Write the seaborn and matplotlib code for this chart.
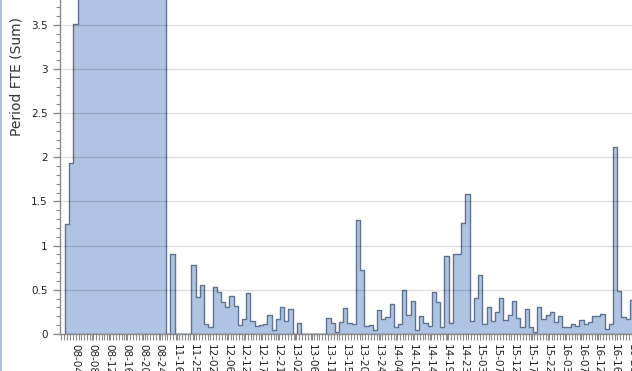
import numpy as np
import pandas as pd
import seaborn as sns
import matplotlib.pyplot as plt
from matplotlib.ticker import MultipleLocator, FuncFormatter
from matplotlib.lines import Line2D

# FTE per period (values above ~3.8 are cut off in the source, so estimated)
fte = [
    1.24, 1.93, 3.51,
    4.2, 4.6, 5.1, 5.4, 5.0, 4.8, 5.3, 5.6, 5.2, 4.9, 5.5, 5.8, 5.1, 4.7, 5.0,
    5.4, 4.9, 4.5, 4.8, 4.4, 4.1,
    0, 0.90, 0, 0, 0, 0,
    0.78, 0.42, 0.56, 0.11, 0.08, 0.53, 0.48, 0.36, 0.30, 0.43, 0.32, 0.10,
    0.17, 0.46, 0.15, 0.09, 0.10, 0.11, 0.22, 0.04, 0.17, 0.31, 0.15, 0.28,
    0, 0.12, 0, 0, 0, 0, 0, 0,
    0.18, 0.12, 0.02, 0.14, 0.29, 0.12, 0.11, 1.29, 0.72, 0.09, 0.10, 0.05,
    0.27, 0.17, 0.19, 0.34, 0.08,
    0.11, 0.50, 0.21, 0.37, 0.05, 0.20, 0.12, 0.09, 0.48, 0.36, 0.08, 0.88,
    0.12, 0.91, 0.91, 1.26, 1.58, 0.15, 0.41, 0.67, 0.11, 0.30, 0.15, 0.25,
    0.41, 0.16, 0.21, 0.37, 0.18, 0.08, 0.28, 0.08, 0.02, 0.30, 0.17, 0.21,
    0.25, 0.14, 0.20, 0.08, 0.08, 0.11, 0.09, 0.16, 0.11, 0.14, 0.20, 0.20,
    0.23, 0.06, 0.11, 2.12, 0.49, 0.19, 0.17, 0.38,
]

tick_labels = [
    "08-04", "08-08", "08-12", "08-16", "08-20", "08-24", "11-16", "11-25",
    "12-02", "12-06", "12-12", "12-17", "12-21", "13-02", "13-06", "13-11",
    "13-15", "13-20", "13-24", "14-04", "14-10", "14-14", "14-19", "14-23",
    "15-03", "15-07", "15-12", "15-17", "15-22", "16-03", "16-07", "16-12",
    "16-16", "16-20",
]
first_tick = 2
tick_step = 4

df = pd.DataFrame({"period": np.arange(len(fte)), "fte": fte})

sns.set_style("white")
plt.rcParams["font.family"] = ["DejaVu Sans"]

fig = plt.figure(figsize=(6.32, 3.71), dpi=100)
ax = fig.add_axes([60 / 632, 37 / 371, 572 / 632, 334 / 371])

sns.histplot(
    df, x="period", weights="fte", discrete=True, element="step", fill=True,
    color="#aec4e2", edgecolor="#5f7390", linewidth=1.0, alpha=1, ax=ax,
)

ax.set_xlim(-1.69, 134.0)
ax.set_ylim(0, 3.78)
ax.set_xlabel("")
ax.set_ylabel("")

ax.yaxis.set_major_locator(MultipleLocator(0.5))
ax.yaxis.set_minor_locator(MultipleLocator(0.1))
ax.yaxis.set_major_formatter(FuncFormatter(lambda v, _: f"{v:g}"))
ax.grid(axis="y", color="black", alpha=0.13, lw=1)
ax.set_axisbelow(False)

ticks = [first_tick + tick_step * k for k in range(len(tick_labels))]
ax.set_xticks(ticks)
ax.set_xticklabels(tick_labels, rotation=270, fontsize=7.5, color="#222222")
ax.xaxis.set_minor_locator(MultipleLocator(0.68))

ax.tick_params(axis="y", which="major", left=True, length=5, width=1,
               color="#8c8c8c", labelsize=7.5, labelcolor="#222222", pad=4)
ax.tick_params(axis="y", which="minor", left=True, length=3, width=0.8,
               color="#8c8c8c")
ax.tick_params(axis="x", which="both", bottom=True, length=4, width=0.8,
               color="#8c8c8c", pad=3)

for side in ["top", "right"]:
    ax.spines[side].set_visible(False)
for side in ["left", "bottom"]:
    ax.spines[side].set_color("#8c8c8c")
    ax.spines[side].set_linewidth(1)

fig.text(17 / 632, 1 - 76 / 371, "Period FTE (Sum)", rotation=90,
         ha="center", va="center", fontsize=10, color="#333333")
fig.add_artist(Line2D([0.0015, 0.0015], [0, 1], transform=fig.transFigure,
                      color="#a9c2e0", lw=1.5))

fig.savefig("out.png", dpi=100)
